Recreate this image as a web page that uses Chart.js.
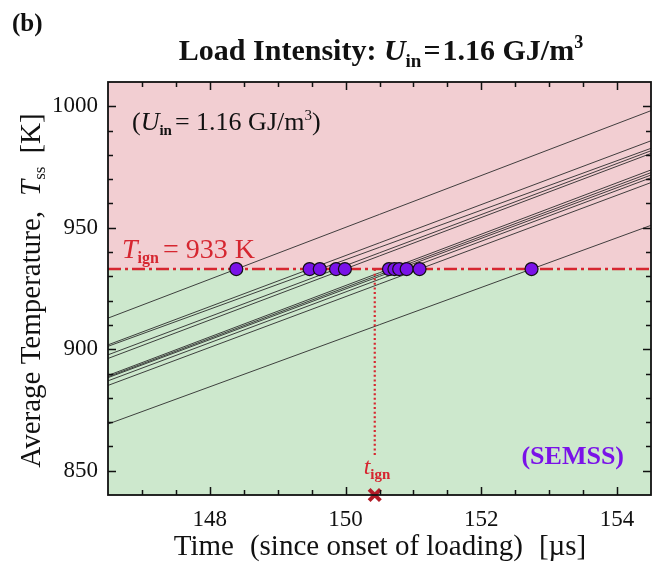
<!DOCTYPE html>
<html>
<head>
<meta charset="utf-8">
<script src="https://cdn.jsdelivr.net/npm/chart.js@4.4.0/dist/chart.umd.min.js"></script>
<style>
  html, body { margin: 0; padding: 0; background: #ffffff; }
  #wrap { width: 656px; height: 571px; }
</style>
</head>
<body>
<div id="wrap"><canvas id="chart" width="656" height="571"></canvas></div>
<script>
// Time window of the plot [µs]
const timeStart = 146.5;
const timeEnd = 154.5;
// Average temperature of each hot spot at the start and end of the window [K]
const tempAtStart = [912.8, 901.8, 901.2, 897.7, 896.2, 889.2, 888.7, 888.3, 887.0, 885.1, 869.2];
const tempAtEnd   = [998.2, 985.8, 982.7, 981.7, 980.6, 973.8, 972.7, 971.7, 970.6, 968.6, 951.0];
// Time at which each hot spot reaches the ignition temperature [µs]
const ignitionTimes = [148.39, 149.47, 149.62, 149.86, 149.99, 150.64, 150.72, 150.79, 150.90, 151.09, 152.74];
const ignitionTemp = 933;      // T_ign [K]
const tIgn = 150.43;           // ignition time [µs]
const tIgnLineBottom = 856;    // lower end of the dotted marker line [K]
const tempMin = 840, tempMax = 1010;
// Tick labels
const xTickValues = [148, 150, 152, 154];
const yTickValues = [850, 900, 950, 1000];

const SERIF = "'Liberation Serif', 'Times New Roman', serif";
const RED = 'rgb(214, 38, 48)';
const PURPLE = 'rgb(122, 18, 232)';

const lineSets = tempAtStart.map((t0, i) => ({
  data: [{ x: timeStart, y: t0 }, { x: timeEnd, y: tempAtEnd[i] }],
  borderColor: 'rgba(45, 45, 45, 0.9)',
  borderWidth: 1,
  pointRadius: 0,
  order: 3
}));

const datasets = [
  ...lineSets,
  {
    // T_ign threshold
    data: [{ x: timeStart, y: ignitionTemp }, { x: timeEnd, y: ignitionTemp }],
    borderColor: RED, borderWidth: 2.5, borderDash: [13, 4, 3, 4],
    pointRadius: 0, order: 2
  },
  {
    // t_ign marker line
    data: [{ x: tIgn, y: ignitionTemp }, { x: tIgn, y: tIgnLineBottom }],
    borderColor: RED, borderWidth: 2.2, borderDash: [2, 2.6],
    pointRadius: 0, order: 2
  },
  {
    // ignition points
    data: ignitionTimes.map(t => ({ x: t, y: ignitionTemp })),
    showLine: false,
    pointRadius: 6.5,
    pointBackgroundColor: PURPLE,
    pointBorderColor: '#111',
    pointBorderWidth: 1.2,
    order: 0
  },
  {
    // t_ign cross on the time axis
    data: [{ x: tIgn, y: tempMin }],
    showLine: false,
    pointStyle: 'crossRot',
    pointRadius: 8,
    pointBorderWidth: 4,
    pointBorderColor: 'rgb(178, 28, 40)',
    clip: false,
    order: 0
  }
];

// Shaded regions above / below T_ign
const regionPlugin = {
  id: 'regions',
  beforeDatasetsDraw(chart) {
    const { ctx, chartArea: a, scales: { y } } = chart;
    const yi = y.getPixelForValue(ignitionTemp);
    ctx.save();
    ctx.fillStyle = 'rgb(242, 206, 210)';
    ctx.fillRect(a.left, a.top, a.right - a.left, yi - a.top);
    ctx.fillStyle = 'rgb(205, 232, 205)';
    ctx.fillRect(a.left, yi, a.right - a.left, a.bottom - yi);
    ctx.restore();
  }
};

// Frame and inward tick marks on all four sides
const framePlugin = {
  id: 'frame',
  afterDatasetsDraw(chart) {
    const { ctx, chartArea: a, scales: { x, y } } = chart;
    ctx.save();
    ctx.strokeStyle = '#111';
    ctx.lineWidth = 1.5;
    const major = 8, minor = 5;
    for (let v = 147; v <= 154.01; v += 0.5) {
      const px = Math.round(x.getPixelForValue(v)) + 0.5;
      const len = xTickValues.includes(v) ? major : minor;
      ctx.beginPath();
      ctx.moveTo(px, a.bottom); ctx.lineTo(px, a.bottom - len);
      ctx.moveTo(px, a.top); ctx.lineTo(px, a.top + len);
      ctx.stroke();
    }
    for (let v = 850; v <= 1000; v += 10) {
      const py = Math.round(y.getPixelForValue(v)) + 0.5;
      const len = yTickValues.includes(v) ? major : minor;
      ctx.beginPath();
      ctx.moveTo(a.left, py); ctx.lineTo(a.left + len, py);
      ctx.moveTo(a.right, py); ctx.lineTo(a.right - len, py);
      ctx.stroke();
    }
    ctx.lineWidth = 1.8;
    ctx.strokeRect(a.left, a.top, a.right - a.left, a.bottom - a.top);
    ctx.restore();
  }
};

// Draws a run of text pieces with individual fonts / offsets
function richText(ctx, x, y, parts, align) {
  let w = 0;
  parts.forEach(p => { ctx.font = p.font; w += ctx.measureText(p.text).width + (p.gap || 0); });
  let cx = align === 'center' ? x - w / 2 : (align === 'right' ? x - w : x);
  parts.forEach(p => {
    ctx.font = p.font;
    ctx.fillStyle = p.color || '#111';
    ctx.fillText(p.text, cx, y + (p.dy || 0));
    cx += ctx.measureText(p.text).width + (p.gap || 0);
  });
}

const textPlugin = {
  id: 'texts',
  afterDraw(chart) {
    const { ctx, chartArea: a } = chart;
    ctx.save();
    ctx.textBaseline = 'alphabetic';
    // panel letter
    richText(ctx, 12, 31, [{ text: '(b)', font: `bold 25px ${SERIF}` }], 'left');
    // title
    richText(ctx, 381, 60, [
      { text: 'Load Intensity: ', font: `bold 30px ${SERIF}` },
      { text: 'U', font: `bold italic 30px ${SERIF}` },
      { text: 'in', font: `bold 19px ${SERIF}`, dy: 7, gap: 2 },
      { text: '=', font: `bold 30px ${SERIF}`, gap: 2 },
      { text: '1.16 GJ/m', font: `bold 30px ${SERIF}` },
      { text: '3', font: `bold 18px ${SERIF}`, dy: -12 }
    ], 'center');
    // load annotation
    richText(ctx, 132, 130, [
      { text: '(', font: `26px ${SERIF}` },
      { text: 'U', font: `italic 26px ${SERIF}` },
      { text: 'in', font: `bold 15px ${SERIF}`, dy: 5, gap: 3 },
      { text: '= 1.16 GJ/m', font: `26px ${SERIF}` },
      { text: '3', font: `15px ${SERIF}`, dy: -10 },
      { text: ')', font: `26px ${SERIF}` }
    ], 'left');
    // T_ign label
    richText(ctx, 122, 258, [
      { text: 'T', font: `italic 28px ${SERIF}`, color: RED },
      { text: 'ign', font: `bold 16px ${SERIF}`, dy: 5, color: RED, gap: 4 },
      { text: '= 933 K', font: `28px ${SERIF}`, color: RED }
    ], 'left');
    // SEMSS label
    richText(ctx, 624, 464, [{ text: '(SEMSS)', font: `bold 26px ${SERIF}`, color: PURPLE }], 'right');
    // t_ign label
    richText(ctx, 377, 474, [
      { text: 't', font: `italic 24px ${SERIF}`, color: RED },
      { text: 'ign', font: `bold 15px ${SERIF}`, dy: 5, color: RED }
    ], 'center');
    // axis titles
    richText(ctx, 380, 555, [
      { text: 'Time', font: `29px ${SERIF}`, gap: 16 },
      { text: '(since onset of loading)', font: `29px ${SERIF}`, gap: 16 },
      { text: '[µs]', font: `29px ${SERIF}` }
    ], 'center');
    ctx.translate(40, (a.top + a.bottom) / 2 + 2);
    ctx.rotate(-Math.PI / 2);
    richText(ctx, 0, 0, [
      { text: 'Average Temperature,', font: `29px ${SERIF}`, gap: 15 },
      { text: 'T', font: `italic 29px ${SERIF}` },
      { text: 'ss', font: `17px ${SERIF}`, dy: 5, gap: 13 },
      { text: '[K]', font: `29px ${SERIF}` }
    ], 'center');
    ctx.restore();
  }
};

new Chart(document.getElementById('chart'), {
  type: 'line',
  data: { datasets },
  options: {
    responsive: false,
    devicePixelRatio: 1,
    animation: false,
    layout: { autoPadding: false, padding: { top: 82, right: 5, left: 0, bottom: 0 } },
    plugins: { legend: { display: false }, tooltip: { enabled: false }, title: { display: false } },
    scales: {
      x: {
        type: 'linear', min: timeStart, max: timeEnd,
        grid: { display: false, drawTicks: false },
        border: { display: false },
        afterBuildTicks: s => { s.ticks = xTickValues.map(v => ({ value: v })); },
        afterFit: s => { s.height = 76; s.paddingLeft = 0; s.paddingRight = 0; },
        ticks: { padding: 11, color: '#111', font: { family: SERIF, size: 23 }, maxRotation: 0,
                 callback: v => String(v) }
      },
      y: {
        type: 'linear', min: tempMin, max: tempMax,
        grid: { display: false, drawTicks: false },
        border: { display: false },
        afterBuildTicks: s => { s.ticks = yTickValues.map(v => ({ value: v })); },
        afterFit: s => { s.width = 108; s.paddingTop = 0; s.paddingBottom = 0; },
        ticks: { padding: 10, color: '#111', font: { family: SERIF, size: 23 },
                 callback: v => String(v) }
      }
    }
  },
  plugins: [regionPlugin, framePlugin, textPlugin]
});
</script>
</body>
</html>
